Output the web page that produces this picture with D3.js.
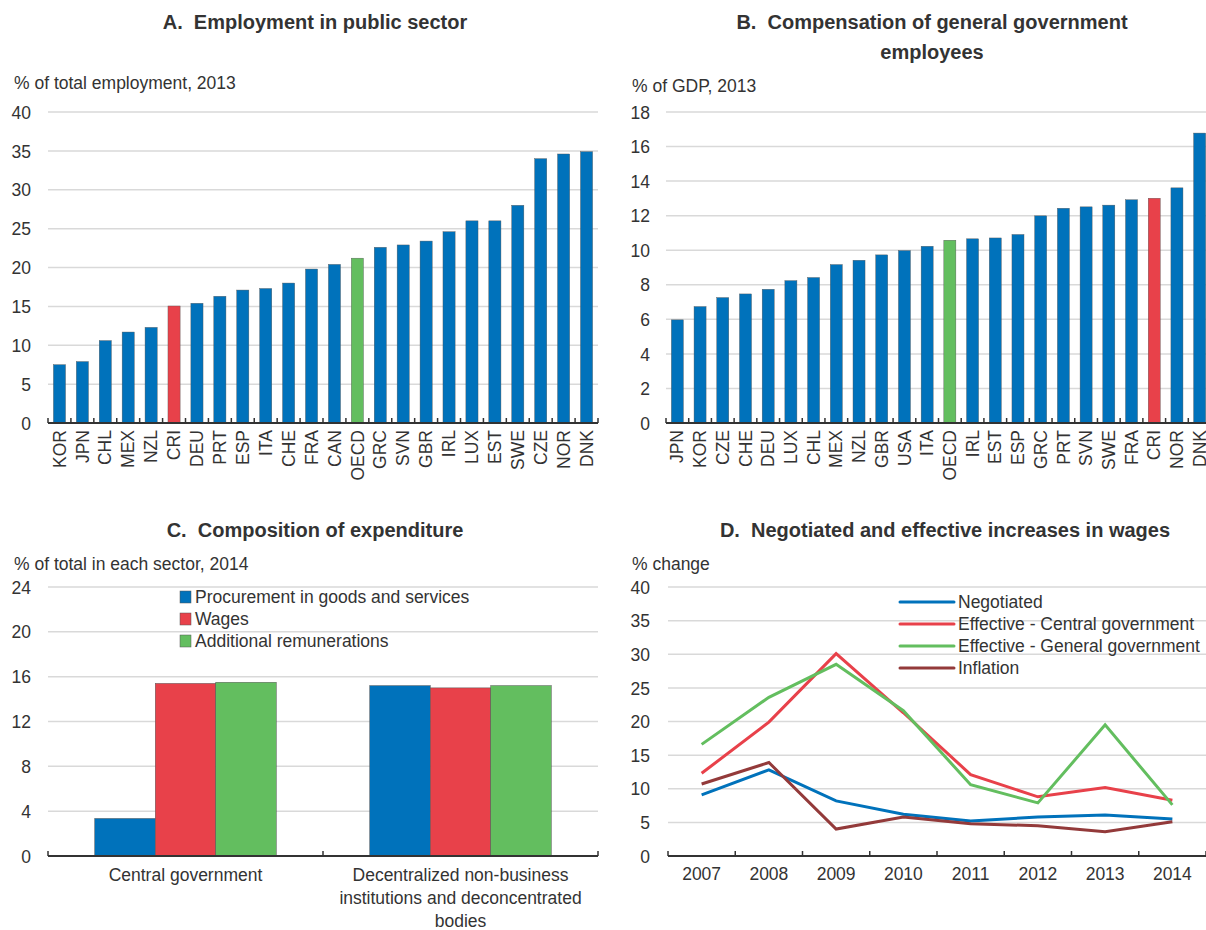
<!DOCTYPE html>
<html>
<head>
<meta charset="utf-8">
<script src="https://cdnjs.cloudflare.com/ajax/libs/d3/7.8.5/d3.min.js"></script>
<style>
  body { margin: 0; background: #fff; }
  svg { display: block; font-family: "Liberation Sans Narrow", "Arial Narrow", "Liberation Sans", sans-serif; }
  .title { font-weight: bold; font-size: 20px; fill: #333; }
  .sub { font-size: 17.5px; fill: #333; }
  .tick text { font-size: 17.5px; fill: #333; }
  .grid line { stroke: #d9d9d9; stroke-width: 1.5; }
</style>
</head>
<body>
<div id="chart"></div>
<script>
// Panel A: employment in public sector, % of total employment 2013
var countriesA = ["KOR","JPN","CHL","MEX","NZL","CRI","DEU","PRT","ESP","ITA","CHE","FRA","CAN","OECD","GRC","SVN","GBR","IRL","LUX","EST","SWE","CZE","NOR","DNK"];
var valuesA = [7.5, 7.9, 10.6, 11.7, 12.3, 15.05, 15.4, 16.3, 17.1, 17.3, 18.0, 19.8, 20.4, 21.2, 22.6, 22.9, 23.4, 24.6, 26.0, 26.0, 28.0, 34.0, 34.6, 34.9];

// Panel B: compensation of general government employees, % of GDP 2013
var countriesB = ["JPN","KOR","CZE","CHE","DEU","LUX","CHL","MEX","NZL","GBR","USA","ITA","OECD","IRL","EST","ESP","GRC","PRT","SVN","SWE","FRA","CRI","NOR","DNK"];
var valuesB = [5.97, 6.74, 7.26, 7.47, 7.74, 8.24, 8.42, 9.17, 9.42, 9.73, 9.98, 10.23, 10.58, 10.66, 10.71, 10.91, 11.99, 12.43, 12.51, 12.61, 12.92, 13.01, 13.61, 16.78];

// Panel C: composition of expenditure, % of total in each sector 2014
var sectorsC = ["Central government", "Decentralized non-business institutions and deconcentrated bodies"];
var sectorLinesC = [["Central government"], ["Decentralized non-business", "institutions and deconcentrated", "bodies"]];
var seriesC = ["Procurement in goods and services", "Wages", "Additional remunerations"];
var procurementC = [3.35, 15.2];
var wagesC = [15.4, 15.0];
var additionalC = [15.5, 15.2];

// Panel D: negotiated and effective increases in wages, % change
var yearsD = ["2007","2008","2009","2010","2011","2012","2013","2014"];
var seriesD = ["Negotiated", "Effective - Central government", "Effective - General government", "Inflation"];
var negotiatedD = [9.1, 12.8, 8.2, 6.2, 5.2, 5.8, 6.1, 5.5];
var centralD = [12.3, 19.9, 30.1, 21.3, 12.1, 8.8, 10.2, 8.3];
var generalD = [16.6, 23.6, 28.5, 21.6, 10.6, 7.9, 19.5, 7.6];
var inflationD = [10.7, 13.9, 4.0, 5.8, 4.8, 4.5, 3.6, 5.1];

var blue = "#0072bb", red = "#e8414a", green = "#63be5f", darkred = "#933a3a";

var svg = d3.select("#chart").append("svg")
  .attr("width", 1206)
  .attr("height", 930);

// gridlines + left axis labels
function drawY(y, x0, x1, ticks, labelX) {
  var g = svg.append("g").attr("class", "grid");
  g.selectAll("line").data(ticks).enter().append("line")
    .attr("x1", x0).attr("x2", x1)
    .attr("y1", d => y(d)).attr("y2", d => y(d));
  var yAxis = svg.append("g")
    .attr("transform", `translate(${labelX},0)`)
    .call(d3.axisLeft(y).tickValues(ticks).tickSize(0).tickPadding(0));
  yAxis.select(".domain").remove();
  yAxis.selectAll("text").attr("dy", "0.35em");
}

// baseline with small upward ticks at band edges
function drawBase(x, yPos, x0, x1) {
  var edges = x.domain().map(d => x(d) - x.step() * x.paddingInner() / 2);
  edges.push(x1);
  svg.append("line")
    .attr("x1", x0).attr("x2", x1).attr("y1", yPos).attr("y2", yPos)
    .attr("stroke", "#333").attr("stroke-width", 2);
  svg.append("g").selectAll("line").data(edges).enter().append("line")
    .attr("x1", d => d).attr("x2", d => d)
    .attr("y1", yPos).attr("y2", yPos - 5)
    .attr("stroke", "#333").attr("stroke-width", 1.5);
}

function title(lines, cx, y) {
  var t = svg.append("text").attr("class", "title").attr("text-anchor", "middle");
  lines.forEach(function(l, i) {
    t.append("tspan").attr("x", cx).attr("y", y + i * 30).text(l);
  });
}

function subtitle(text, x, y) {
  svg.append("text").attr("class", "sub").attr("x", x).attr("y", y).text(text);
}

// simple sorted bar chart with coloured highlights
function barPanel(cats, vals, xr, yr, ymax, step, labelX) {
  var x = d3.scaleBand().domain(cats).range(xr).paddingInner(0.47).paddingOuter(0.235);
  var y = d3.scaleLinear().domain([0, ymax]).range(yr);
  drawY(y, xr[0], Math.min(xr[1], 1206), d3.range(0, ymax + 0.01, step), labelX);
  svg.append("g").selectAll("rect").data(cats).enter().append("rect")
    .attr("x", d => x(d))
    .attr("y", (d, i) => y(vals[i]))
    .attr("width", x.bandwidth())
    .attr("height", (d, i) => y(0) - y(vals[i]))
    .attr("fill", d => d === "CRI" ? red : d === "OECD" ? green : blue)
    .attr("stroke", "#555").attr("stroke-width", 0.4);
  drawBase(x, yr[0], xr[0], xr[1]);
  svg.append("g").selectAll("text").data(cats).enter().append("text")
    .attr("class", "sub")
    .attr("text-anchor", "end")
    .attr("dy", "0.35em")
    .attr("transform", d => `translate(${x(d) + x.bandwidth() / 2},${yr[0] + 7}) rotate(-90)`)
    .text(d => d);
}

// A
title(["A.\u00a0 Employment in public sector"], 315, 29);
subtitle("% of total employment, 2013", 14, 89);
barPanel(countriesA, valuesA, [48, 598], [423, 112], 40, 5, 31);

// B
title(["B.\u00a0 Compensation of general government", "employees"], 932, 29);
subtitle("% of GDP, 2013", 632, 92);
barPanel(countriesB, valuesB, [666, 1211], [423, 112], 18, 2, 650);

// C
title(["C.\u00a0 Composition of expenditure"], 315, 537);
subtitle("% of total in each sector, 2014", 14, 570);
(function() {
  var x0 = d3.scaleBand().domain(sectorsC).range([48, 598]);
  var x1 = d3.scaleBand().domain(seriesC).range([0.17 * x0.step(), 0.83 * x0.step()]);
  var y = d3.scaleLinear().domain([0, 24]).range([856, 587]);
  var colors = d3.scaleOrdinal().domain(seriesC).range([blue, red, green]);
  var valuesC = [procurementC, wagesC, additionalC];
  drawY(y, 48, 598, d3.range(0, 25, 4), 31);
  seriesC.forEach(function(s, si) {
    svg.append("g").selectAll("rect").data(sectorsC).enter().append("rect")
      .attr("x", d => x0(d) + x1(s))
      .attr("y", (d, i) => y(valuesC[si][i]))
      .attr("width", x1.bandwidth())
      .attr("height", (d, i) => y(0) - y(valuesC[si][i]))
      .attr("fill", colors(s))
      .attr("stroke", "#555").attr("stroke-width", 0.5);
  });
  drawBase(x0, 856, 48, 598);
  sectorsC.forEach(function(s, i) {
    var t = svg.append("text").attr("class", "sub").attr("text-anchor", "middle");
    sectorLinesC[i].forEach(function(l, j) {
      t.append("tspan").attr("x", x0(s) + x0.bandwidth() / 2).attr("y", 881 + j * 23).text(l);
    });
  });
  var leg = svg.append("g").attr("transform", "translate(180,597)");
  seriesC.forEach(function(s, i) {
    leg.append("rect").attr("x", 0).attr("y", i * 22 - 6).attr("width", 11).attr("height", 12)
      .attr("fill", colors(s)).attr("stroke", "#555").attr("stroke-width", 0.5);
    leg.append("text").attr("class", "sub").attr("x", 15).attr("y", i * 22).attr("dy", "0.35em").text(s);
  });
})();

// D
title(["D.\u00a0 Negotiated and effective increases in wages"], 945, 537);
subtitle("% change", 632, 570);
(function() {
  var x = d3.scaleBand().domain(yearsD).range([668, 1206]);
  var y = d3.scaleLinear().domain([0, 40]).range([856, 587]);
  var colors = d3.scaleOrdinal().domain(seriesD).range([blue, red, green, darkred]);
  var valuesD = [negotiatedD, centralD, generalD, inflationD];
  drawY(y, 668, 1206, d3.range(0, 41, 5), 650);
  drawBase(x, 856, 668, 1206);
  svg.append("g").selectAll("text").data(yearsD).enter().append("text")
    .attr("class", "sub").attr("text-anchor", "middle")
    .attr("x", d => x(d) + x.bandwidth() / 2).attr("y", 880)
    .text(d => d);
  var line = d3.line()
    .x((d, i) => x(yearsD[i]) + x.bandwidth() / 2)
    .y(d => y(d));
  // draw order: negotiated, inflation under the effective lines
  [0, 3, 1, 2].forEach(function(si) {
    svg.append("path").datum(valuesD[si])
      .attr("d", line)
      .attr("fill", "none")
      .attr("stroke", colors(seriesD[si]))
      .attr("stroke-width", 3);
  });
  var leg = svg.append("g").attr("transform", "translate(900,602)");
  seriesD.forEach(function(s, i) {
    leg.append("line").attr("x1", 0).attr("x2", 54).attr("y1", i * 22).attr("y2", i * 22)
      .attr("stroke", colors(s)).attr("stroke-width", 3).attr("stroke-linecap", "round");
    leg.append("text").attr("class", "sub").attr("x", 58).attr("y", i * 22).attr("dy", "0.35em").text(s);
  });
})();
</script>
</body>
</html>
